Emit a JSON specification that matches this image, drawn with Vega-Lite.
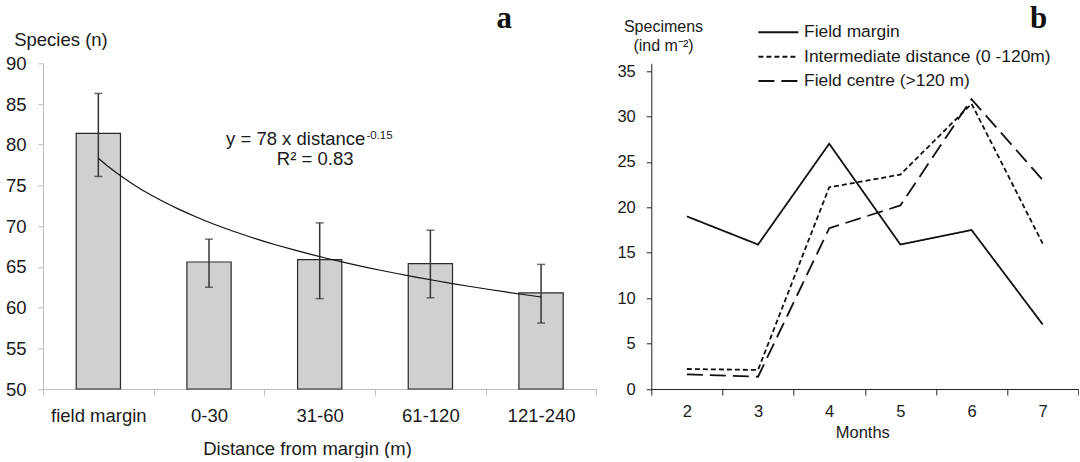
{
  "$schema": "https://vega.github.io/schema/vega-lite/v6.json",
  "padding": {"left": 5, "top": 2.3, "right": 0, "bottom": 0},
  "spacing": 54.3,
  "bounds": "flush",
  "config": {
    "view": {"stroke": null},
    "font": "Liberation Sans",
    "text": {"font": "Liberation Sans", "color": "#1a1a1a"}
  },
  "hconcat": [
    {
      "width": 553.4,
      "height": 325.7,
      "data": {
        "values": [
          {"cat": "field margin", "idx": 1, "mean": 81.4, "lo": 76.1, "hi": 86.3},
          {"cat": "0-30", "idx": 2, "mean": 65.6, "lo": 62.5, "hi": 68.4},
          {"cat": "31-60", "idx": 3, "mean": 65.9, "lo": 61.1, "hi": 70.4},
          {"cat": "61-120", "idx": 4, "mean": 65.4, "lo": 61.2, "hi": 69.5},
          {"cat": "121-240", "idx": 5, "mean": 61.8, "lo": 58.1, "hi": 65.3}
        ]
      },
      "resolve": {"scale": {"x": "independent"}},
      "layer": [
        {
          "layer": [
            {
              "mark": {"type": "bar", "fill": "#d0d0d0", "stroke": "#2a2a2a", "strokeWidth": 1.2, "width": {"band": 0.4}},
              "encoding": {
                "x": {
                  "field": "cat", "type": "nominal", "sort": null,
                  "scale": {"paddingInner": 0, "paddingOuter": 0},
                  "axis": {
                    "title": "Distance from margin (m)", "labelAngle": 0, "tickBand": "extent",
                    "domainColor": "#bdbdbd", "tickColor": "#bdbdbd", "tickSize": 6,
                    "labelFontSize": 18.5, "labelColor": "#1a1a1a", "labelPadding": 11.5,
                    "titleFontSize": 18.5, "titleFontWeight": "normal", "titleColor": "#1a1a1a",
                    "titleX": 264, "titleY": 65, "titleBaseline": "alphabetic", "titleAlign": "center"
                  }
                },
                "y": {
                  "field": "mean", "type": "quantitative", "title": "Species (n)",
                  "scale": {"domain": [50, 90], "nice": false, "zero": false},
                  "axis": {
                    "values": [50, 55, 60, 65, 70, 75, 80, 85, 90], "grid": false,
                    "domainColor": "#bdbdbd", "tickColor": "#bdbdbd", "tickSize": 5,
                    "labelFontSize": 18.5, "labelColor": "#1a1a1a", "labelPadding": 12,
                    "title": "Species (n)", "titleAngle": 0, "titleAlign": "left", "titleBaseline": "alphabetic",
                    "titleX": -29.3, "titleY": -18.3, "titleFontSize": 18.5, "titleFontWeight": "normal", "titleColor": "#1a1a1a"
                  }
                },
                "y2": {"datum": 50}
              }
            },
            {
              "mark": {"type": "errorbar", "ticks": true, "size": 8, "thickness": 1.5, "color": "#333333"},
              "encoding": {
                "x": {"field": "cat", "type": "nominal", "sort": null},
                "y": {"field": "lo", "type": "quantitative", "title": "Species (n)", "scale": {"domain": [50, 90], "nice": false, "zero": false}},
                "y2": {"field": "hi"}
              }
            }
          ]
        },
        {
          "layer": [
            {
              "transform": [{"regression": "mean", "on": "idx", "method": "pow", "extent": [1, 5]}],
              "mark": {"type": "line", "color": "#111111", "strokeWidth": 1.2},
              "encoding": {
                "x": {"field": "idx", "type": "quantitative", "scale": {"domain": [0.5, 5.5], "nice": false, "zero": false}, "axis": null},
                "y": {"field": "mean", "type": "quantitative", "title": "Species (n)", "scale": {"domain": [50, 90], "nice": false, "zero": false}}
              }
            },
            {
              "data": {"values": [{}]},
              "mark": {"type": "text", "text": "y = 78 x distance", "align": "right", "baseline": "alphabetic", "fontSize": 18.5},
              "encoding": {"x": {"datum": 3.413}, "y": {"datum": 79.97}}
            },
            {
              "data": {"values": [{}]},
              "mark": {"type": "text", "text": "-0.15", "align": "left", "baseline": "alphabetic", "fontSize": 11.5, "dx": 1},
              "encoding": {"x": {"datum": 3.413}, "y": {"datum": 80.67}}
            },
            {
              "data": {"values": [{}]},
              "mark": {"type": "text", "text": "R² = 0.83", "align": "center", "baseline": "alphabetic", "fontSize": 18.5},
              "encoding": {"x": {"datum": 2.959}, "y": {"datum": 77.47}}
            },
            {
              "data": {"values": [{}]},
              "mark": {"type": "text", "text": "a", "align": "center", "baseline": "alphabetic", "fontSize": 31, "font": "Liberation Serif", "fontWeight": "bold", "color": "#111111"},
              "encoding": {"x": {"datum": 4.667}, "y": {"datum": 94.3}}
            }
          ]
        }
      ]
    },
    {
      "width": 427,
      "height": 325.7,
      "data": {
        "values": [
          {"month": 2, "series": "Field margin", "value": 19.0},
          {"month": 3, "series": "Field margin", "value": 15.9},
          {"month": 4, "series": "Field margin", "value": 27.0},
          {"month": 5, "series": "Field margin", "value": 15.9},
          {"month": 6, "series": "Field margin", "value": 17.5},
          {"month": 7, "series": "Field margin", "value": 7.1},
          {"month": 2, "series": "Intermediate distance (0 -120m)", "value": 2.2},
          {"month": 3, "series": "Intermediate distance (0 -120m)", "value": 2.1},
          {"month": 4, "series": "Intermediate distance (0 -120m)", "value": 22.2},
          {"month": 5, "series": "Intermediate distance (0 -120m)", "value": 23.6},
          {"month": 6, "series": "Intermediate distance (0 -120m)", "value": 31.4},
          {"month": 7, "series": "Intermediate distance (0 -120m)", "value": 16.0},
          {"month": 2, "series": "Field centre (>120 m)", "value": 1.6},
          {"month": 3, "series": "Field centre (>120 m)", "value": 1.35},
          {"month": 4, "series": "Field centre (>120 m)", "value": 17.7},
          {"month": 5, "series": "Field centre (>120 m)", "value": 20.2},
          {"month": 6, "series": "Field centre (>120 m)", "value": 31.9},
          {"month": 7, "series": "Field centre (>120 m)", "value": 23.0}
        ]
      },
      "layer": [
        {
          "mark": {"type": "line", "color": "#111111", "strokeWidth": 1.8},
          "encoding": {
            "x": {
              "field": "month", "type": "ordinal",
              "scale": {"type": "band", "paddingInner": 0, "paddingOuter": 0},
              "axis": {
                "title": "Months", "labelAngle": 0, "tickBand": "extent",
                "domainColor": "#222222", "tickColor": "#222222", "tickSize": 6,
                "labelFontSize": 16.5, "labelColor": "#1a1a1a", "labelPadding": 8.7,
                "titleFontSize": 16.5, "titleFontWeight": "normal", "titleColor": "#1a1a1a",
                "titleX": 211, "titleY": 48.3, "titleBaseline": "alphabetic", "titleAlign": "center"
              }
            },
            "y": {
              "field": "value", "type": "quantitative",
              "scale": {"domain": [0, 35.85], "nice": false, "zero": true},
              "axis": {
                "values": [0, 5, 10, 15, 20, 25, 30, 35], "grid": false,
                "domainColor": "#222222", "tickColor": "#222222", "tickSize": 5,
                "labelFontSize": 16.5, "labelColor": "#1a1a1a", "labelPadding": 11,
                "title": ["Specimens", "(ind m⁻²)"], "titleAngle": 0, "titleAlign": "center", "titleBaseline": "alphabetic",
                "titleX": 11.7, "titleY": -31.6, "titleFontSize": 16, "titleFontWeight": "normal", "titleColor": "#1a1a1a", "titleLineHeight": 19
              }
            },
            "strokeDash": {
              "field": "series", "type": "nominal",
              "scale": {
                "domain": ["Field margin", "Intermediate distance (0 -120m)", "Field centre (>120 m)"],
                "range": [[1, 0], [5, 3], [16, 7]]
              },
              "legend": {
                "title": null, "orient": "none", "legendX": 714.4, "legendY": -39.5,
                "symbolType": "stroke", "symbolSize": 1600, "symbolStrokeWidth": 2, "symbolStrokeColor": "#111111",
                "clipHeight": 17, "rowPadding": 6.4, "padding": 0, "labelOffset": 4.7,
                "labelFontSize": 17.4, "labelColor": "#1a1a1a", "labelLimit": 400
              }
            }
          }
        },
        {
          "data": {"values": [{}]},
          "mark": {"type": "text", "text": "b", "align": "center", "baseline": "alphabetic", "fontSize": 31, "font": "Liberation Serif", "fontWeight": "bold", "color": "#111111", "dx": -4},
          "encoding": {"x": {"datum": 7, "type": "ordinal"}, "y": {"datum": 39.7}}
        }
      ]
    }
  ]
}
